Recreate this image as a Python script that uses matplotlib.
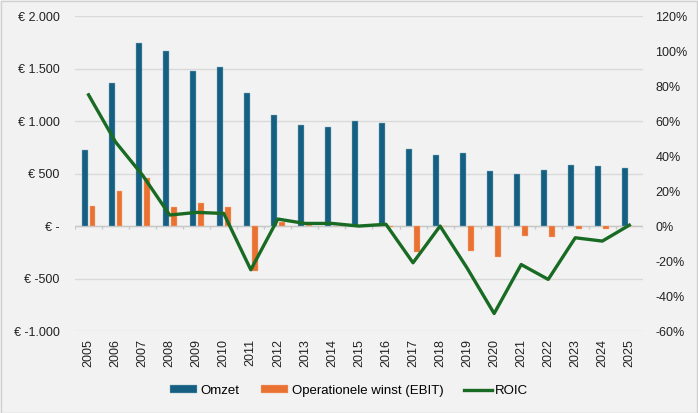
import numpy as np
import matplotlib
matplotlib.use('Agg')
import matplotlib.pyplot as plt
from matplotlib.ticker import FuncFormatter

plt.rcParams['font.family'] = ['Liberation Sans', 'DejaVu Sans']

# data
years = [str(y) for y in range(2005, 2026)]
omzet = [720, 1360, 1740, 1670, 1475, 1515, 1270, 1055, 960, 945, 1005,
         980, 735, 680, 695, 520, 500, 530, 580, 570, 550]
ebit = [190, 335, 460, 180, 220, 185, -430, 40, 10, 3, 2,
        -5, -245, 2, -235, -295, -95, -100, -25, -25, 2]
roic = [75, 48, 29, 6.3, 7.8, 7.2, -25, 4, 1.5, 1.5, 0,
        1, -21, 0, -24, -50, -22, -30.5, -6.7, -8.6, 0.5]

c_omzet = '#156082'
c_ebit = '#E97132'
c_roic = '#196B24'
bg = '#f2f2f2'
grid_c = '#d9d9d9'


def euro(v, pos):
    if v == 0:
        return '€ -'
    s = '{:,.0f}'.format(abs(v)).replace(',', '.')
    return '€ -' + s if v < 0 else '€ ' + s


fig = plt.figure(figsize=(6.98, 4.13), dpi=100, facecolor=bg)
ax = fig.add_axes([0.1075, 0.1985, 0.8135, 0.7625])
ax.set_facecolor(bg)

x = np.arange(len(years))
w = 0.22
ax.bar(x - 0.145, omzet, w, color=c_omzet, edgecolor='#8fb3c4', linewidth=0.3,
       label='Omzet', zorder=3)
ax.bar(x + 0.145, ebit, w, color=c_ebit, edgecolor='#f5b58f', linewidth=0.3,
       label='Operationele winst (EBIT)', zorder=3)

ax.set_ylim(-1000, 2000)
ax.set_yticks(np.arange(-1000, 2001, 500))
ax.yaxis.set_major_formatter(FuncFormatter(euro))
ax.set_xlim(-0.5, len(years) - 0.5)
ax.set_xticks(x)
ax.set_xticklabels(years, rotation=90)
ax.grid(axis='y', color=grid_c, linewidth=1, zorder=0)
ax.axhline(0, color='#c8c8c8', linewidth=1, zorder=2)
# small tick marks on the zero line between categories
ax.vlines(np.arange(-0.5, len(years)), -30, 0, color='#c8c8c8', linewidth=1, zorder=2)

for s in ax.spines.values():
    s.set_visible(False)
ax.tick_params(axis='both', length=0, labelsize=9, colors='#222222')
ax.tick_params(axis='y', pad=11)
ax.tick_params(axis='x', pad=6)

ax2 = ax.twinx()
ax2.plot(x, roic, color=c_roic, linewidth=2.4, label='ROIC', zorder=4)
ax2.set_ylim(-60, 120)
ax2.set_yticks(np.arange(-60, 121, 20))
ax2.yaxis.set_major_formatter(FuncFormatter(lambda v, p: '{:.0f}%'.format(v)))
for s in ax2.spines.values():
    s.set_visible(False)
ax2.tick_params(axis='y', length=0, labelsize=9, colors='#222222', pad=9)

h1, l1 = ax.get_legend_handles_labels()
h2, l2 = ax2.get_legend_handles_labels()
fig.legend(h1 + h2, l1 + l2, loc='center', bbox_to_anchor=(0.5, 0.053), ncol=3,
           frameon=False, fontsize=9.5, handlelength=2.1, handleheight=0.55,
           columnspacing=1.6, handletextpad=0.25)

# thin frame round the figure
fig.patches.append(plt.Rectangle((0.001, 0.001), 0.998, 0.997, transform=fig.transFigure,
                                 fill=False, edgecolor='#d0d0d0', linewidth=1))

fig.savefig('out.png', dpi=100, facecolor=bg)
